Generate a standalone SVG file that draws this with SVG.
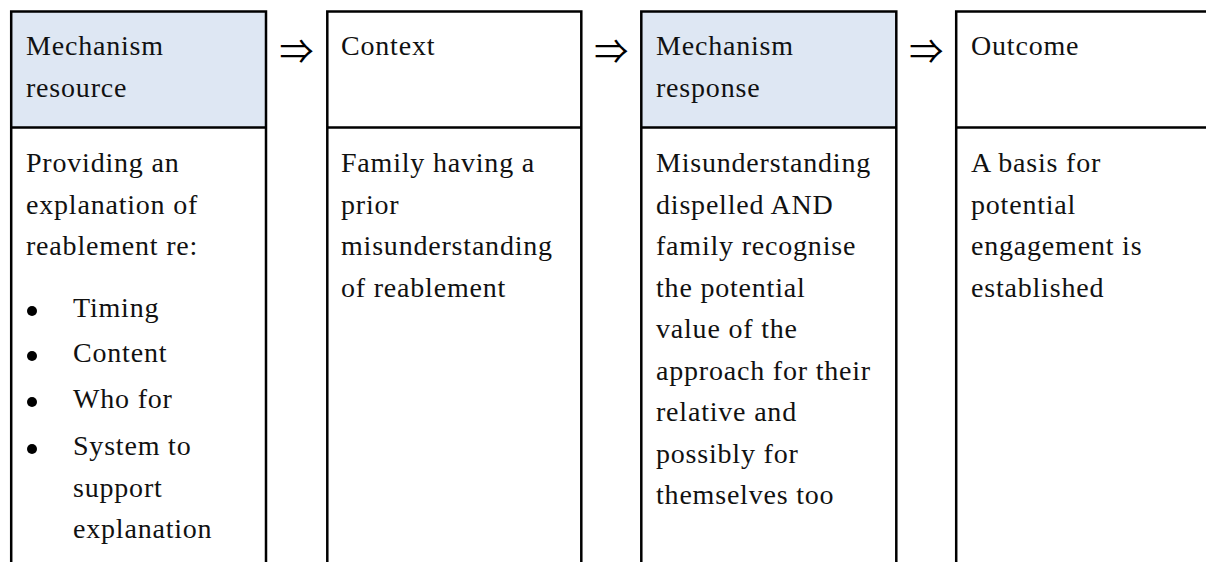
<svg xmlns="http://www.w3.org/2000/svg" width="1206" height="562" viewBox="0 0 1206 562">
<style>
.t{font-family:"Liberation Serif","Times New Roman",serif;font-size:28px;letter-spacing:0.8px;fill:#111}
.ln{stroke:#000;stroke-width:2.5;fill:none}
.hb{fill:#dee7f3}
.hw{fill:#fff}
.arr{font-family:"Noto Sans CJK JP","DejaVu Sans",sans-serif;font-size:34px;fill:#000;text-anchor:middle}
</style>
<rect width="1206" height="562" fill="#fff"/>
<g id="node-mechanism-resource">
<rect class="hb" x="11" y="11.5" width="255" height="116"/>
<path class="ln" d="M11.2 11.5H266M11.2 127.5H266M11.2 10.3V562M266 10.3V562"/>
<text class="t" x="26" y="55">Mechanism</text>
<text class="t" x="26" y="97">resource</text>
<text class="t" x="26" y="172">Providing an</text>
<text class="t" x="26" y="213.5">explanation of</text>
<text class="t" x="26" y="255">reablement re:</text>
<circle cx="32" cy="311" r="5"/>
<circle cx="32" cy="356" r="5"/>
<circle cx="32" cy="402" r="5"/>
<circle cx="32" cy="449" r="5"/>
<text class="t" x="73" y="317">Timing</text>
<text class="t" x="73" y="362">Content</text>
<text class="t" x="73" y="408">Who for</text>
<text class="t" x="73" y="455">System to</text>
<text class="t" x="73" y="496.5">support</text>
<text class="t" x="73" y="538">explanation</text>
</g>
<g id="node-context">
<rect class="hw" x="327.3" y="11.5" width="254" height="116"/>
<path class="ln" d="M327.3 11.5H581.3M327.3 127.5H581.3M327.3 10.3V562M581.3 10.3V562"/>
<text class="t" x="341" y="55">Context</text>
<text class="t" x="341" y="172">Family having a</text>
<text class="t" x="341" y="213.5">prior</text>
<text class="t" x="341" y="255">misunderstanding</text>
<text class="t" x="341" y="296.5">of reablement</text>
</g>
<g id="node-mechanism-response">
<rect class="hb" x="641.3" y="11.5" width="255" height="116"/>
<path class="ln" d="M641.3 11.5H896.3M641.3 127.5H896.3M641.3 10.3V562M896.3 10.3V562"/>
<text class="t" x="656" y="55">Mechanism</text>
<text class="t" x="656" y="97">response</text>
<text class="t" x="656" y="172">Misunderstanding</text>
<text class="t" x="656" y="213.5">dispelled AND</text>
<text class="t" x="656" y="255">family recognise</text>
<text class="t" x="656" y="296.5">the potential</text>
<text class="t" x="656" y="338">value of the</text>
<text class="t" x="656" y="379.5">approach for their</text>
<text class="t" x="656" y="421">relative and</text>
<text class="t" x="656" y="462.5">possibly for</text>
<text class="t" x="656" y="504">themselves too</text>
</g>
<g id="node-outcome">
<rect class="hw" x="956.2" y="11.5" width="260" height="116"/>
<path class="ln" d="M956.2 11.5H1210M956.2 127.5H1210M956.2 10.3V562"/>
<text class="t" x="971" y="55">Outcome</text>
<text class="t" x="971" y="172">A basis for</text>
<text class="t" x="971" y="213.5">potential</text>
<text class="t" x="971" y="255">engagement is</text>
<text class="t" x="971" y="296.5">established</text>
</g>
<g id="connectors">
<text class="arr" x="296.5" y="64">⇒</text>
<text class="arr" x="611.3" y="64">⇒</text>
<text class="arr" x="926.3" y="64">⇒</text>
</g>
</svg>
